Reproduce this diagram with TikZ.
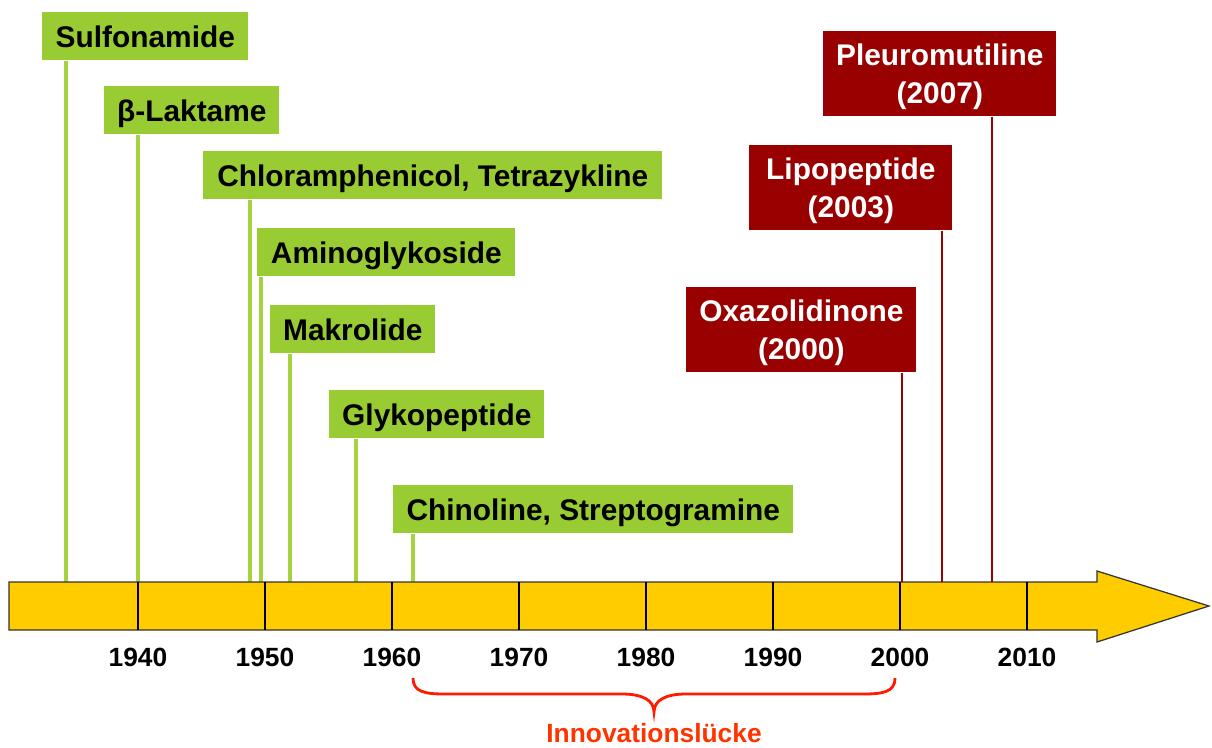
\documentclass[tikz,border=0pt]{standalone}
\usepackage{fontspec}
\setmainfont{Liberation Sans}
\usepackage{tikz}
\usepackage{xcolor}
\definecolor{drugnew}{HTML}{990000}
\definecolor{drugold}{HTML}{99CC33}
\definecolor{drugline}{HTML}{A6D23E}
\definecolor{timebar}{HTML}{FFCC00}
\definecolor{gapred}{HTML}{FF1A00}
\definecolor{gaptext}{HTML}{FF3300}

\tikzset{
  oldbox/.style={fill=drugold, anchor=north west, minimum height=0.96cm,
    inner sep=0pt, text height=12.6pt, text depth=0pt,
    font=\bfseries\fontsize{17}{21}\selectfont},
  newbox/.style={fill=drugnew, anchor=north west, minimum height=1.7cm,
    inner sep=0pt, align=center, text=white, text depth=0pt,
    font=\bfseries\fontsize{17}{21.5}\selectfont},
  oldline/.style={drugline, line width=2pt},
  newline/.style={drugnew, line width=1.6pt},
  yearlbl/.style={font=\bfseries\fontsize{15}{18}\selectfont},
}

\begin{document}
\begin{tikzpicture}[x=0.02cm, y=-0.02cm]
    \useasboundingbox (0,0) rectangle (1212,747);

    % alte Klassen
    \node[oldbox, minimum width=4.12cm] (sulfo) at (42,12) {Sulfonamide};
    \node[oldbox, minimum width=3.5cm] (lakt) at (104,86) {β-Laktame};
    \node[oldbox, minimum width=9.18cm] (chlor) at (203,151) {Chloramphenicol, Tetrazykline};
    \node[oldbox, minimum width=5.16cm] (amino) at (257,228) {Aminoglykoside};
    \node[oldbox, minimum width=3.3cm] (makro) at (270,305) {Makrolide};
    \node[oldbox, minimum width=4.3cm] (glyko) at (329,390) {Glykopeptide};
    \node[oldbox, minimum width=8.0cm] (chino) at (393,485) {Chinoline, Streptogramine};

    % neue Klassen
    \node[newbox, minimum width=4.66cm] (pleuro) at (823,31) {Pleuromutiline\\(2007)};
    \node[newbox, minimum width=4.06cm] (lipo) at (749,145) {Lipopeptide\\(2003)};
    \node[newbox, minimum width=4.6cm] (oxa) at (686,287) {Oxazolidinone\\(2000)};

    % Punkte auf dem Zeitstrahl
    \coordinate (tsulfo) at (66,582);
    \coordinate (tlakt) at (138,582);
    \coordinate (tchlor) at (250,582);
    \coordinate (tamino) at (261,582);
    \coordinate (tmakro) at (290,582);
    \coordinate (tglyko) at (356,582);
    \coordinate (tchino) at (413,582);
    \coordinate (toxa) at (902,582);
    \coordinate (tlipo) at (942,582);
    \coordinate (tpleuro) at (992,582);

    \foreach \d in {sulfo,lakt,chlor,amino,makro,glyko,chino}
      \draw[oldline] (\d.south -| t\d) -- (t\d);
    \foreach \d in {oxa,lipo,pleuro}
      \draw[newline] (\d.south -| t\d) -- (t\d);

    % Zeitstrahl
    \draw[fill=timebar, draw=black!80, line width=0.7pt]
      (9,582) -- (1097,582) -- (1097,571) -- (1209,606) -- (1097,642)
      -- (1097,630) -- (9,630) -- cycle;
    \foreach \yr in {1940,1950,...,2010} {
      \pgfmathsetmacro\xx{138+(\yr-1940)*12.7}
      \draw[black, line width=0.6pt] (\xx,582) -- (\xx,630);
      \node[yearlbl] (y\yr) at (\xx,657) {\yr};
    }

    % Luecke
    \coordinate (gapL) at (413,678);
    \coordinate (gapR) at (895,678);
    \draw[gapred, line width=1.6pt] (gapL) .. controls (413,692) and (425,694) .. (445,694)
      -- (622,694) .. controls (642,694) and (654,700) .. (654,712)
      .. controls (654,700) and (666,694) .. (686,694) -- (863,694)
      .. controls (883,694) and (895,692) .. (gapR);
    \node[text=gaptext, font=\bfseries\fontsize{15}{18}\selectfont] (gap) at (654,733) {Innovationslücke};
\end{tikzpicture}
\end{document}
